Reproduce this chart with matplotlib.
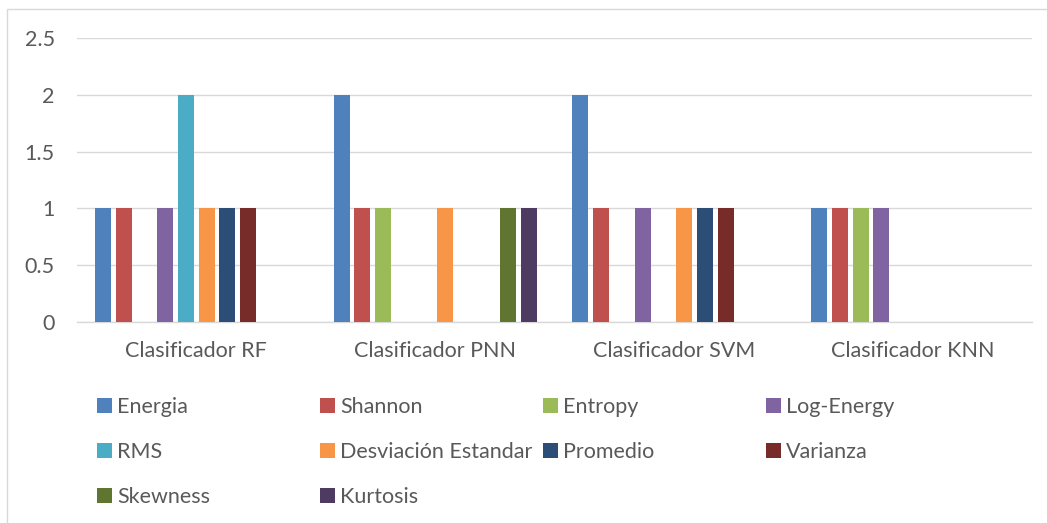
import numpy as np
import matplotlib.pyplot as plt
from matplotlib.patches import Rectangle

plt.rcParams['font.family'] = ['Lato', 'DejaVu Sans']

categorias = ['Clasificador RF', 'Clasificador PNN', 'Clasificador SVM', 'Clasificador KNN']
series = ['Energia', 'Shannon', 'Entropy', 'Log-Energy', 'RMS',
          'Desviación Estandar', 'Promedio', 'Varianza', 'Skewness', 'Kurtosis']
colores = ['#4F81BD', '#C0504D', '#9BBB59', '#8064A2', '#4BACC6',
           '#F79646', '#2C4D75', '#772C2A', '#5F7530', '#4D3B62']

# una fila por serie, una columna por clasificador
energia = [1, 2, 2, 1]
shannon = [1, 1, 1, 1]
entropy = [0, 1, 0, 1]
log_energy = [1, 0, 1, 1]
rms = [2, 0, 0, 0]
desviacion = [1, 1, 1, 0]
promedio = [1, 0, 1, 0]
varianza = [1, 0, 1, 0]
skewness = [0, 1, 0, 0]
kurtosis = [0, 1, 0, 0]
valores = [energia, shannon, entropy, log_energy, rms,
           desviacion, promedio, varianza, skewness, kurtosis]

gris = '#595959'
linea = '#D9D9D9'
fs = 15.5

fig = plt.figure(figsize=(10.47, 5.23), dpi=100)
ax = fig.add_axes([0.0735, 0.3843, 0.9122, 0.543])

x = np.arange(len(categorias))
slot = 0.087
ancho = 0.067
barras = []
for i, (nombre, v) in enumerate(zip(series, valores)):
    off = (i - (len(series) - 1) / 2) * slot
    b = ax.bar(x + off, v, width=ancho, color=colores[i], label=nombre, zorder=3)
    barras.append(b)

ax.set_xlim(-0.5, len(categorias) - 0.5)
ax.set_ylim(0, 2.5)
ax.set_yticks([0, 0.5, 1, 1.5, 2, 2.5])
ax.set_yticklabels(['0', '0.5', '1', '1.5', '2', '2.5'])
ax.set_xticks(x)
ax.set_xticklabels(categorias)
ax.yaxis.grid(True, color=linea, linewidth=1.0, zorder=0)
ax.set_axisbelow(True)
for s in ['top', 'right', 'left']:
    ax.spines[s].set_visible(False)
ax.spines['bottom'].set_color(linea)
ax.spines['bottom'].set_linewidth(1.0)
ax.tick_params(axis='both', length=0, labelsize=fs, labelcolor=gris)
ax.tick_params(axis='y', pad=16)
ax.tick_params(axis='x', pad=14)

# leyenda en filas de cuatro, columnas de igual ancho
columnas = [[0, 4, 8], [1, 5, 9], [2, 6], [3, 7]]
x_col = [0.0926, 0.3056, 0.5186, 0.7316]
for xc, idx in zip(x_col, columnas):
    fig.legend([barras[i] for i in idx], [series[i] for i in idx],
               loc='upper left', bbox_to_anchor=(xc, 0.241), frameon=False,
               fontsize=fs, labelcolor=gris, handlelength=0.7, handleheight=0.7,
               handletextpad=0.25, labelspacing=1.17, borderaxespad=0, borderpad=0)

fig.patches.append(Rectangle((7 / 1047, -0.1), 1.2, 1 - 9 / 523 + 0.1,
                             transform=fig.transFigure, fill=False,
                             edgecolor=linea, linewidth=1.0))

fig.savefig('out.png', dpi=100)
